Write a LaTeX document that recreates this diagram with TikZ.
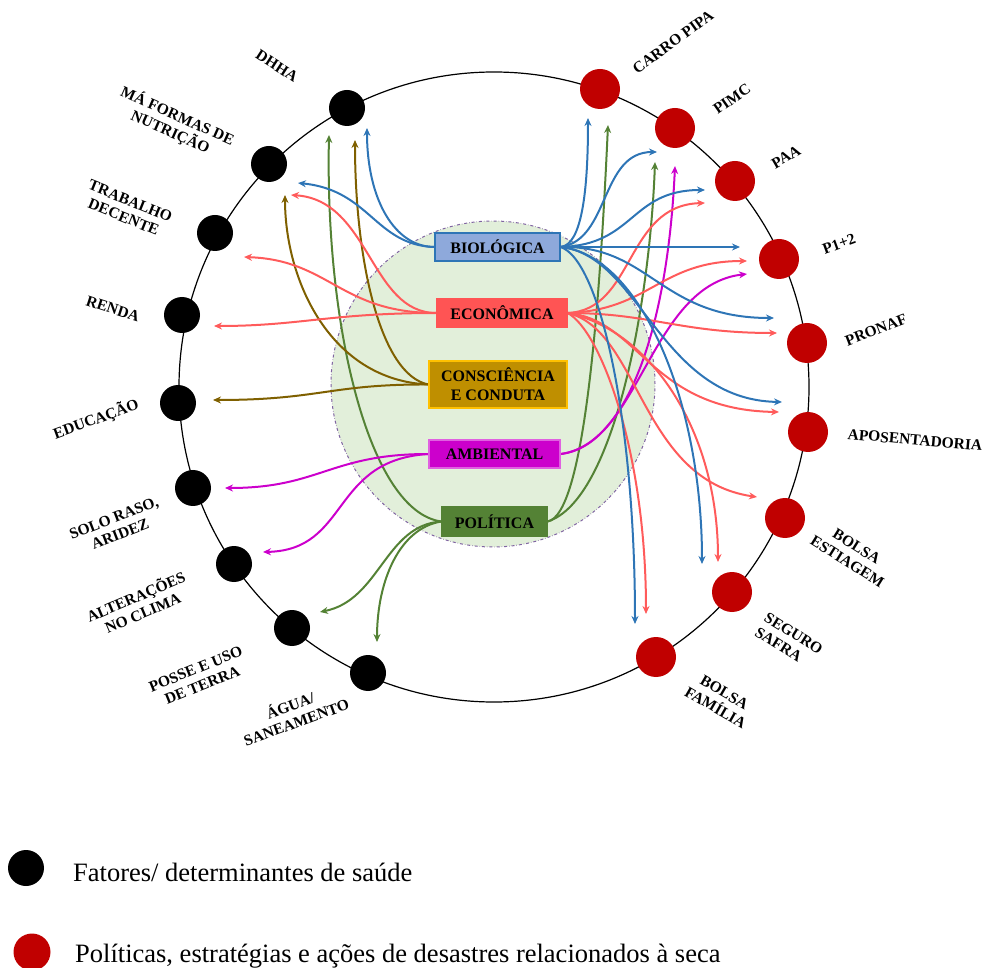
\documentclass[tikz,border=0pt]{standalone}
\usepackage{fontspec}
\setmainfont{Liberation Serif}
\usetikzlibrary{arrows.meta}
\definecolor{cblue}{HTML}{2E75B6}
\definecolor{cred}{HTML}{FF5B5B}
\definecolor{cbrown}{HTML}{7F6000}
\definecolor{cgreen}{HTML}{548235}
\definecolor{cmag}{HTML}{CC00CC}
\definecolor{dotred}{HTML}{C00000}
\definecolor{biofill}{HTML}{8EA9DB}
\definecolor{ecofill}{HTML}{FF5454}
\definecolor{consfill}{HTML}{BF8F00}
\definecolor{consborder}{HTML}{FFC000}
\definecolor{ambborder}{HTML}{E060E0}
\definecolor{ellfill}{HTML}{E2EFDA}
\definecolor{ellborder}{HTML}{8064A2}
\newcommand\labfont{\fontsize{15.5}{17.5}\selectfont\bfseries}
\newcommand\catfont{\fontsize{16}{19}\selectfont\bfseries}
\newcommand\legfont{\fontsize{26.5}{30}\selectfont}
\begin{document}
\begin{tikzpicture}[x=1pt,y=-1pt,
  fd/.style={circle, fill=black, minimum size=36pt, inner sep=0pt},
  pd/.style={circle, fill=dotred, minimum size=40pt, inner sep=0pt},
  lab/.style={font=\labfont, align=center, inner sep=0pt},
  cat/.style={font=\catfont, align=center, inner sep=1pt, text=black, line width=1.2pt},
  conn/.style={line width=2pt, -{Stealth[length=8pt,width=7pt]}},
  ]
\useasboundingbox (0,0) rectangle (989,968);
% outer circle
\draw[line width=1.2pt] (494,387) circle[radius=315pt];
% central ellipse
\draw[fill=ellfill, draw=ellborder, dash dot, line width=1pt] (493,384) ellipse[x radius=162pt, y radius=163pt];

% category boxes
\node[cat, fill=biofill, draw=cblue, minimum width=125pt, minimum height=28pt] (bio) at (497.5,247) {BIOLÓGICA};
\node[cat, fill=ecofill, draw=ecofill, minimum width=130pt, minimum height=29pt] (eco) at (502,313) {ECONÔMICA};
\node[cat, fill=consfill, draw=consborder, minimum width=138pt, minimum height=47pt] (cons) at (498,384.5) {CONSCIÊNCIA\\E CONDUTA};
\node[cat, fill=cmag, draw=ambborder, minimum width=131pt, minimum height=28pt] (amb) at (494.5,454) {AMBIENTAL};
\node[cat, fill=cgreen, draw=cgreen, minimum width=105pt, minimum height=29pt] (pol) at (494.5,521.5) {POLÍTICA};

% arrow tip coordinates
\coordinate (tb1) at (367,128);
\coordinate (tb2) at (298,183);
\coordinate (tb3) at (588,118);
\coordinate (tb4) at (657,152);
\coordinate (tb5) at (705,190);
\coordinate (tb6) at (740,247);
\coordinate (tb7) at (774,318);
\coordinate (tb8) at (782,402);
\coordinate (tb9) at (702,564);
\coordinate (tb10) at (635,624);
\coordinate (tr1) at (291,195);
\coordinate (tr2) at (244,257);
\coordinate (tr3) at (214,326);
\coordinate (tr4) at (705,203);
\coordinate (tr5) at (747,261);
\coordinate (tr6) at (777,333);
\coordinate (tr7) at (779,412);
\coordinate (tr8) at (757,497);
\coordinate (tr9) at (718,562);
\coordinate (tr10) at (646,614);
\coordinate (tw1) at (355,140);
\coordinate (tw2) at (285,195);
\coordinate (tw3) at (213,400);
\coordinate (tg1) at (329,135);
\coordinate (tg2) at (320,612);
\coordinate (tg3) at (377,642);
\coordinate (tg4) at (608,125);
\coordinate (tg5) at (655,162);
\coordinate (tm1) at (225,488);
\coordinate (tm2) at (263,552);
\coordinate (tm3) at (675,166);
\coordinate (tm4) at (747,274);

% green
\draw[conn, cgreen] (pol.west) .. controls (370,512) and (325,330) .. (tg1);
\draw[conn, cgreen] (pol.west) .. controls (385,525) and (380,600) .. (tg2);
\draw[conn, cgreen] (pol.west) .. controls (400,528) and (377,580) .. (tg3);
\draw[conn, cgreen] (pol.east) .. controls (585,515) and (600,300) .. (tg4);
\draw[conn, cgreen] (pol.east) .. controls (615,500) and (650,300) .. (tg5);
% brown
\draw[conn, cbrown] (cons.west) .. controls (380,375) and (355,260) .. (tw1);
\draw[conn, cbrown] (cons.west) .. controls (330,380) and (285,280) .. (tw2);
\draw[conn, cbrown] (cons.west) .. controls (330,384) and (320,400) .. (tw3);
% magenta
\draw[conn, cmag] (amb.west) .. controls (330,454) and (320,488) .. (tm1);
\draw[conn, cmag] (amb.west) .. controls (330,460) and (350,550) .. (tm2);
\draw[conn, cmag] (amb.east) .. controls (630,445) and (668,320) .. (tm3);
\draw[conn, cmag] (amb.east) .. controls (640,445) and (650,285) .. (tm4);
% red
\draw[conn, cred] (eco.west) .. controls (370,313) and (370,200) .. (tr1);
\draw[conn, cred] (eco.west) .. controls (340,313) and (330,260) .. (tr2);
\draw[conn, cred] (eco.west) .. controls (330,313) and (300,326) .. (tr3);
\draw[conn, cred] (eco.east) .. controls (635,310) and (625,205) .. (tr4);
\draw[conn, cred] (eco.east) .. controls (650,310) and (660,261) .. (tr5);
\draw[conn, cred] (eco.east) .. controls (650,313) and (680,333) .. (tr6);
\draw[conn, cred] (eco.east) .. controls (640,320) and (650,410) .. (tr7);
\draw[conn, cred] (eco.east) .. controls (640,330) and (640,480) .. (tr8);
\draw[conn, cred] (eco.east) .. controls (650,330) and (718,430) .. (tr9);
\draw[conn, cred] (eco.east) .. controls (600,330) and (646,450) .. (tr10);
% blue
\draw[conn, cblue] (bio.west) .. controls (395,247) and (367,200) .. (tb1);
\draw[conn, cblue] (bio.west) .. controls (375,245) and (370,190) .. (tb2);
\draw[conn, cblue] (bio.east) .. controls (582,245) and (588,190) .. (tb3);
\draw[conn, cblue] (bio.east) .. controls (610,240) and (600,152) .. (tb4);
\draw[conn, cblue] (bio.east) .. controls (635,245) and (630,190) .. (tb5);
\draw[conn, cblue] (bio.east) -- (tb6);
\draw[conn, cblue] (bio.east) .. controls (650,245) and (660,318) .. (tb7);
\draw[conn, cblue] (bio.east) .. controls (640,255) and (660,400) .. (tb8);
\draw[conn, cblue] (bio.east) .. controls (640,255) and (702,400) .. (tb9);
\draw[conn, cblue] (bio.east) .. controls (600,260) and (635,420) .. (tb10);

% redraw boxes on top of the connectors
\node[cat, fill=biofill, draw=cblue, minimum width=125pt, minimum height=28pt] at (497.5,247) {BIOLÓGICA};
\node[cat, fill=ecofill, draw=ecofill, minimum width=130pt, minimum height=29pt] at (502,313) {ECONÔMICA};
\node[cat, fill=consfill, draw=consborder, minimum width=138pt, minimum height=47pt] at (498,384.5) {CONSCIÊNCIA\\E CONDUTA};
\node[cat, fill=cmag, draw=ambborder, minimum width=131pt, minimum height=28pt] at (494.5,454) {AMBIENTAL};
\node[cat, fill=cgreen, draw=cgreen, minimum width=105pt, minimum height=29pt] at (494.5,521.5) {POLÍTICA};

% black dots (factors)
\node[fd] (dhha) at (347,108) {};
\node[fd] (nutr) at (269,164) {};
\node[fd] (trab) at (215,233) {};
\node[fd] (renda) at (182,315) {};
\node[fd] (educ) at (178,403) {};
\node[fd] (solo) at (193,488) {};
\node[fd] (clima) at (234,564) {};
\node[fd] (posse) at (292,628) {};
\node[fd] (agua) at (368,673) {};
% red dots (policies)
\node[pd] (carro) at (600,89) {};
\node[pd] (pimc) at (675,128) {};
\node[pd] (paa) at (735,181) {};
\node[pd] (p12) at (779,259) {};
\node[pd] (pronaf) at (807,343) {};
\node[pd] (apos) at (808,432) {};
\node[pd] (best) at (785,518) {};
\node[pd] (seg) at (732,592) {};
\node[pd] (bfam) at (656,657) {};

% labels
\node[lab, rotate=-33] (ldhha) at (277,66) {DHHA};
\node[lab, rotate=-24] (lnutr) at (174,124) {MÁ FORMAS DE\\NUTRIÇÃO};
\node[lab, rotate=-22] (ltrab) at (127,209) {TRABALHO\\DECENTE};
\node[lab, rotate=-18] (lrenda) at (113,309) {RENDA};
\node[lab, rotate=20] (leduc) at (96,419) {EDUCAÇÃO};
\node[lab, rotate=21] (lsolo) at (117,526) {SOLO RASO,\\ARIDEZ};
\node[lab, rotate=23] (lclima) at (139,604) {ALTERAÇÕES\\NO CLIMA};
\node[lab, rotate=22] (lposse) at (199,677) {POSSE E USO\\DE TERRA};
\node[lab, rotate=20] (lagua) at (293,713) {ÁGUA/\\SANEAMENTO};
\node[lab, rotate=36] (lcarro) at (673,42) {CARRO PIPA};
\node[lab, rotate=35] (lpimc) at (732,99) {PIMC};
\node[lab, rotate=30] (lpaa) at (786,157) {PAA};
\node[lab, rotate=20] (lp12) at (839,244) {P1+2};
\node[lab, rotate=21] (lpronaf) at (876,330) {PRONAF};
\node[lab, rotate=-5] (lapos) at (915,440) {APOSENTADORIA};
\node[lab, rotate=-32] (lbest) at (852,554) {BOLSA\\ESTIAGEM};
\node[lab, rotate=-32, align=left] (lseg) at (789,641) {SEGURO\\SAFRA};
\node[lab, rotate=-30] (lbfam) at (720,700) {BOLSA\\FAMÍLIA};

% legend
\node[fd, minimum size=36pt] (legb) at (26,868) {};
\node[pd, minimum size=37pt] (legr) at (32,952) {};
\node[font=\legfont, anchor=base west, inner sep=0pt] (legbt) at (73,881) {Fatores/ determinantes de saúde};
\node[font=\legfont, anchor=base west, inner sep=0pt] (legrt) at (75,962) {Políticas, estratégias e ações de desastres relacionados à seca};
\end{tikzpicture}
\end{document}
